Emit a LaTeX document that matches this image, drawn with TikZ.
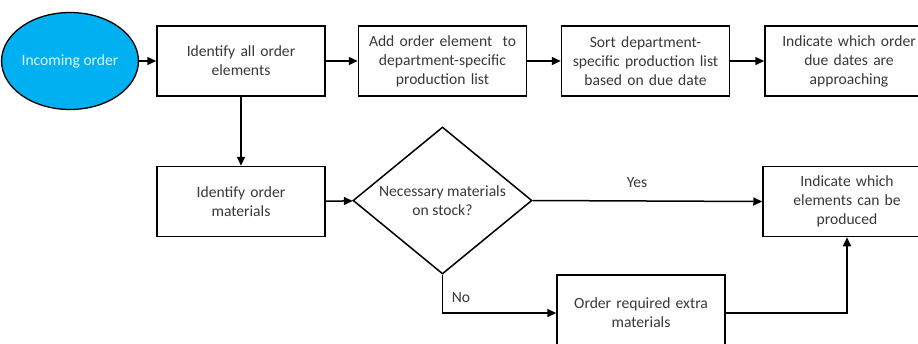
\documentclass[tikz,border=0pt]{standalone}
\usepackage{fontspec}
\setmainfont{Carlito}
\usetikzlibrary{shapes.geometric,arrows.meta}
\definecolor{txt}{HTML}{383838}
\definecolor{startblue}{HTML}{00B0F0}
\begin{document}
\begin{tikzpicture}[x=1pt,y=-1pt,
  font=\fontsize{15.6}{19}\selectfont,
  every node/.style={text=txt},
  procbox/.style={draw=black,line width=1.5pt,minimum width=168pt,minimum height=70pt,
    text width=164pt,align=center,inner sep=0pt},
  startnode/.style={ellipse,draw=black,line width=1.3pt,fill=startblue,text=white!88!startblue,
    minimum width=122pt,minimum height=97pt,inner sep=0pt},
  decision/.style={diamond,draw=black,line width=1.5pt,minimum width=179pt,minimum height=147pt,
    aspect=1.22,inner sep=0pt,align=center},
  flow/.style={line width=1.5pt,-{Triangle[length=9pt,width=8pt]}},
  lbl/.style={inner sep=0pt}]
\useasboundingbox (0,0) rectangle (918,343);
\node[startnode] (start) at (70,61) {Incoming order};
\node[procbox] (ident) at (241,61) {Identify all order\\elements};
\node[procbox] (add) at (442.5,61) {Add order element \ to\\department-specific\\production list};
\node[procbox] (sort) at (645.5,61) {Sort department-\\specific production list\\based on due date};
\node[procbox] (due) at (849,61) {Indicate which order\\due dates are\\approaching};
\node[procbox] (mat) at (241,201.5) {Identify order\\materials};
\node[decision] (stock) at (442.5,200.5) {Necessary materials\\on stock?};
\node[procbox] (prod) at (847,201.5) {Indicate which\\elements can be\\produced};
\node[procbox,minimum height=76pt] (extra) at (641,313) {Order required extra\\materials};
\node[lbl] (yes) at (637,183) {Yes};
\node[lbl] (no) at (461,298) {No};
\draw[flow] (start) -- (ident);
\draw[flow] (ident) -- (add);
\draw[flow] (add) -- (sort);
\draw[flow] (sort) -- (due);
\draw[flow] (ident) -- (mat);
\draw[flow] (mat) -- (stock);
\draw[flow] (stock.east) -- (prod.west);
\draw[flow] (stock.south) |- (extra.west);
\draw[flow] (extra.east) -| (prod.south);
\end{tikzpicture}
\end{document}
